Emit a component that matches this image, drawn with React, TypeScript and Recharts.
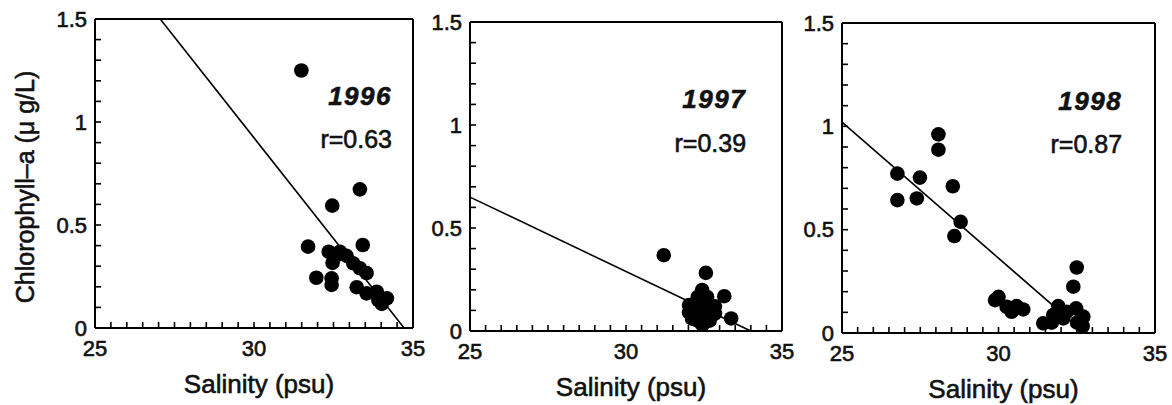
import { ScatterChart, Scatter, XAxis, YAxis, ReferenceLine, ReferenceDot } from 'recharts';

const FONT = '"Liberation Sans", Arial, sans-serif';

// axis ticks (minor every 0.5 psu / 0.1 ug/L, labels only on the major ones)
const xTicks = [25, 25.5, 26, 26.5, 27, 27.5, 28, 28.5, 29, 29.5, 30, 30.5, 31, 31.5, 32, 32.5, 33, 33.5, 34, 34.5, 35];
const yTicks = [0, 0.1, 0.2, 0.3, 0.4, 0.5, 0.6, 0.7, 0.8, 0.9, 1, 1.1, 1.2, 1.3, 1.4, 1.5];
const xLabels = [25, 30, 35];
const yLabels = [0, 0.5, 1, 1.5];

const years = ['1996', '1997', '1998'];
const rValues = ['r=0.63', 'r=0.39', 'r=0.87'];

// 1996
const sal1996 = [31.49, 33.33, 32.46, 31.7, 33.42, 32.35, 32.7, 32.54, 32.47, 33.12, 33.33, 33.54, 31.96, 32.44, 32.44, 33.23, 33.54, 33.86, 33.91, 34.18, 34.02, 32.91];
const chl1996 = [1.25, 0.673, 0.594, 0.395, 0.403, 0.37, 0.37, 0.346, 0.316, 0.314, 0.29, 0.267, 0.244, 0.241, 0.209, 0.198, 0.168, 0.176, 0.136, 0.144, 0.117, 0.35];
const fitSal1996 = [27.05, 34.72];
const fitChl1996 = [1.5, 0];

// 1997 (most stations pile up around 32-33 psu)
const sal1997 = [31.21, 32.56, 33.15, 33.37, 32.44, 32.3, 32.6, 32.02, 32.2, 32.4, 32.6, 32.85, 32.02, 32.2, 32.4, 32.6, 32.85, 32.3, 32.5, 32.68, 32.45, 32.12, 32.75];
const chl1997 = [0.368, 0.282, 0.169, 0.061, 0.199, 0.165, 0.165, 0.126, 0.13, 0.125, 0.126, 0.12, 0.09, 0.085, 0.09, 0.087, 0.085, 0.05, 0.045, 0.05, 0.03, 0.06, 0.1];
const fitSal1997 = [25, 34.0];
const fitChl1997 = [0.65, 0];

// 1998
const sal1998 = [28.08, 28.08, 26.77, 27.49, 28.54, 26.77, 27.39, 28.79, 28.59, 32.5, 32.39, 29.89, 30.0, 30.26, 30.42, 30.58, 30.79, 31.43, 31.7, 31.75, 31.96, 31.91, 32.18, 32.48, 32.71, 32.69, 32.07, 32.51];
const chl1998 = [0.961, 0.887, 0.771, 0.752, 0.71, 0.643, 0.651, 0.538, 0.469, 0.317, 0.224, 0.159, 0.175, 0.127, 0.103, 0.13, 0.114, 0.047, 0.05, 0.087, 0.111, 0.13, 0.103, 0.119, 0.079, 0.034, 0.071, 0.05];
const fitSal1998 = [25, 32.6];
const fitChl1998 = [1.02, 0.02];

const toPoints = (xs: number[], ys: number[]) => xs.map((x, i) => ({ x, y: ys[i] }));

const panels = [
    { sal: sal1996, chl: chl1996, fitSal: fitSal1996, fitChl: fitChl1996, left: 95, top: 19, w: 318, h: 309, yw: 95, noteX: 34.34, yearY: 1.083, rY: 0.874 },
    { sal: sal1997, chl: chl1997, fitSal: fitSal1997, fitChl: fitChl1997, left: 470, top: 22, w: 312, h: 309, yw: 60, noteX: 33.85, yearY: 1.082, rY: 0.869 },
    { sal: sal1998, chl: chl1998, fitSal: fitSal1998, fitChl: fitChl1998, left: 842, top: 23, w: 313, h: 310, yw: 60, noteX: 33.95, yearY: 1.077, rY: 0.87 },
];

const textStyle = { fontFamily: FONT, fill: '#111', stroke: '#111', strokeWidth: 0.6 };

const XTick = (props: any) => {
    const { x, y, payload } = props;
    if (!xLabels.includes(payload.value)) return <g />;
    return (
        <text x={x} y={y} dy="0.71em" textAnchor="middle" fontSize={22} {...textStyle}>
            {payload.value}
        </text>
    );
};

const YTick = (props: any) => {
    const { x, y, payload } = props;
    if (!yLabels.some((v) => Math.abs(v - payload.value) < 1e-6)) return <g />;
    return (
        <text x={x} y={y} dy="0.355em" textAnchor="end" fontSize={22} {...textStyle}>
            {payload.value}
        </text>
    );
};

const dot = (p: any) => <circle cx={p.cx} cy={p.cy} r={7.3} fill="#000" />;

const axisLine = { stroke: '#000', strokeWidth: 2 };
const tickLine = { stroke: '#000', strokeWidth: 1.6 };

function Panel({ idx }: { idx: number }) {
    const p = panels[idx];
    const mTop = 15;
    const mRight = 20;
    const width = p.yw + p.w + 10 + mRight;
    const height = mTop + 10 + p.h + 75;
    const chartTop = p.top - 10 - mTop;
    const labelY = 187 - chartTop;

    return (
        <div style={{ position: 'absolute', left: p.left - p.yw, top: chartTop }}>
            <ScatterChart width={width} height={height} margin={{ top: mTop, right: mRight, bottom: 0, left: 0 }}>
                <XAxis
                    type="number"
                    dataKey="x"
                    domain={[25, 35]}
                    ticks={xTicks}
                    interval={0}
                    height={75}
                    allowDataOverflow
                    tickSize={-6}
                    tickMargin={18}
                    tick={XTick}
                    axisLine={axisLine}
                    tickLine={tickLine}
                    label={{
                        content: (lp: any) => (
                            <text x={lp.viewBox.x + lp.viewBox.width / 2 + 5} y={lp.viewBox.y + 65} textAnchor="middle" fontSize={26} {...textStyle}>
                                Salinity (psu)
                            </text>
                        ),
                    }}
                />
                <XAxis xAxisId="top" orientation="top" type="number" dataKey="x" domain={[25, 35]} ticks={xTicks} interval={0} height={10} tickSize={-6} tick={false} axisLine={axisLine} tickLine={tickLine} />
                <YAxis
                    type="number"
                    dataKey="y"
                    domain={[0, 1.5]}
                    ticks={yTicks}
                    interval={0}
                    width={p.yw}
                    allowDataOverflow
                    tickSize={-6}
                    tickMargin={14}
                    tick={YTick}
                    axisLine={axisLine}
                    tickLine={tickLine}
                    label={idx === 0 ? {
                        content: () => (
                            <text x={25} y={labelY} dy="0.36em" textAnchor="middle" transform={`rotate(-90, 25, ${labelY})`} fontSize={25} {...textStyle}>
                                Chlorophyll–a (μ g/L)
                            </text>
                        ),
                    } : undefined}
                />
                <YAxis yAxisId="right" orientation="right" type="number" dataKey="y" domain={[0, 1.5]} ticks={yTicks} interval={0} width={10} tickSize={-6} tick={false} axisLine={axisLine} tickLine={tickLine} />
                <ReferenceLine
                    segment={toPoints(p.fitSal, p.fitChl)}
                    stroke="#000"
                    strokeWidth={1.6}
                />
                <Scatter data={toPoints(p.sal, p.chl)} shape={dot} isAnimationActive={false} />
                <ReferenceDot
                    x={p.noteX}
                    y={p.yearY}
                    r={0}
                    fill="none"
                    stroke="none"
                    label={{
                        content: (lp: any) => (
                            <text x={lp.viewBox.x} y={lp.viewBox.y} textAnchor="end" fontSize={26} fontWeight="bold" fontStyle="italic" letterSpacing={1.5} {...textStyle}>
                                {years[idx]}
                            </text>
                        ),
                    }}
                />
                <ReferenceDot
                    x={p.noteX}
                    y={p.rY}
                    r={0}
                    fill="none"
                    stroke="none"
                    label={{
                        content: (lp: any) => (
                            <text x={lp.viewBox.x} y={lp.viewBox.y} textAnchor="end" fontSize={25} {...textStyle}>
                                {rValues[idx]}
                            </text>
                        ),
                    }}
                />
            </ScatterChart>
        </div>
    );
}

export default function App() {
    return (
        <div style={{ position: 'absolute', left: 0, top: 0, width: 1172, height: 405, background: '#fff', overflow: 'hidden' }}>
            <Panel idx={0} />
            <Panel idx={1} />
            <Panel idx={2} />
        </div>
    );
}
